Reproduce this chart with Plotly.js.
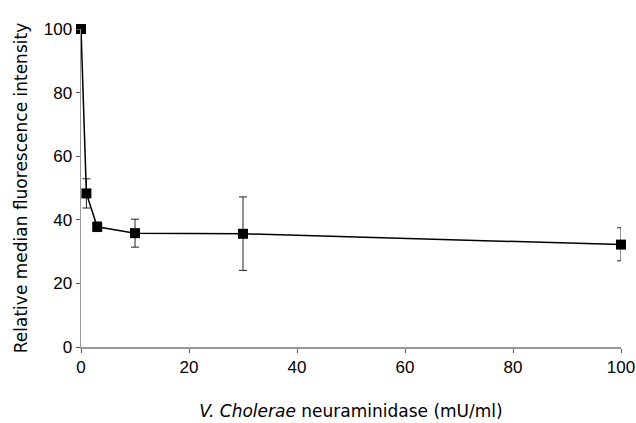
<!DOCTYPE html>
<html><head><meta charset="utf-8">
<script src="https://cdn.plot.ly/plotly-3.0.1.min.js"></script>
<style>html,body{margin:0;padding:0;background:#fff}</style>
</head><body><div id="chart" style="width:636px;height:423px"></div>
<script>
const concentration = [0, 1, 3, 10, 30, 100];
const intensity = [100, 48.3, 37.8, 35.8, 35.6, 32.2];
const errPlus = [0, 4.6, 1.5, 4.4, 11.6, 5.3];
const errMinus = [0, 4.6, 1.5, 4.4, 11.5, 5.1];
const ticks = [0, 20, 40, 60, 80, 100];

const trace = {
  x: concentration, y: intensity, type: 'scatter', mode: 'lines+markers',
  line: {color: '#000', width: 1.5},
  marker: {symbol: 'square', size: 10, color: '#000'},
  error_y: {type: 'data', symmetric: false, array: errPlus, arrayminus: errMinus,
            color: '#222', thickness: 1, width: 4},
  cliponaxis: false
};
const tickFamily = 'Liberation Sans, Arial, sans-serif';
const titleFamily = 'DejaVu Sans, sans-serif';
const layout = {
  width: 636, height: 423,
  margin: {l: 81, r: 15, t: 29, b: 76},
  paper_bgcolor: '#fff', plot_bgcolor: '#fff',
  showlegend: false,
  font: {family: tickFamily, color: '#000'},
  xaxis: {range: [0, 100], tickvals: ticks, ticks: 'outside', ticklen: 4, tickcolor: '#555',
          showline: true, linecolor: '#999', linewidth: 1.5, showgrid: false, zeroline: false,
          tickfont: {size: 17, family: tickFamily, color: '#000'},
          title: {text: '<i>V. Cholerae</i> neuraminidase (mU/ml)', font: {size: 17, family: titleFamily, color: '#000'}, standoff: 29}},
  yaxis: {range: [0, 100], tickvals: ticks, ticks: 'outside', ticklen: 4, tickcolor: '#555',
          showline: true, linecolor: '#999', linewidth: 1.5, showgrid: false, zeroline: false,
          tickfont: {size: 17, family: tickFamily, color: '#000'},
          title: {text: 'Relative median fluorescence intensity', font: {size: 17, family: titleFamily, color: '#000'}, standoff: 12}}
};
Plotly.newPlot('chart', [trace], layout, {displayModeBar: false, staticPlot: true});
</script></body></html>
